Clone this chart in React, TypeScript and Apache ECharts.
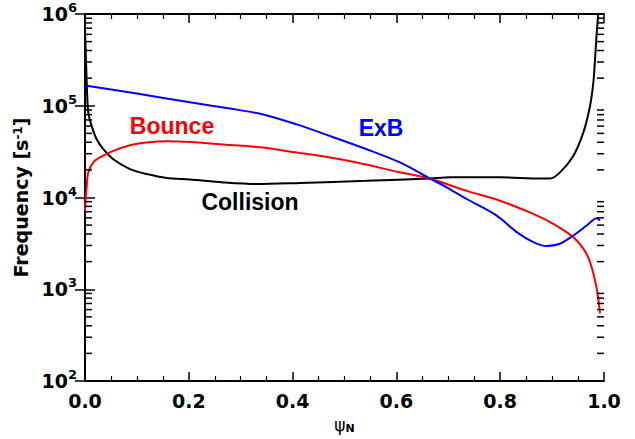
import React, { useEffect, useRef } from "react";
import * as echarts from "echarts";

// Collision frequency
const collisionX = [0, 0.0019, 0.004, 0.0064, 0.0129, 0.0225, 0.0353, 0.0545, 0.0867, 0.1189, 0.1574, 0.2023, 0.2659, 0.3308, 0.4143, 0.5428, 0.6647, 0.7033, 0.7996, 0.8767, 0.896, 0.9152, 0.9408, 0.9601, 0.973, 0.9794, 0.9827, 0.9859, 0.989, 0.9913];
const collisionY = [6.7e5, 3.17e5, 1.4e5, 8.39e4, 6.0e4, 4.31e4, 3.36e4, 2.61e4, 2.04e4, 1.8e4, 1.63e4, 1.57e4, 1.46e4, 1.4e4, 1.44e4, 1.52e4, 1.61e4, 1.66e4, 1.66e4, 1.61e4, 1.61e4, 1.88e4, 2.84e4, 5.09e4, 9.89e4, 1.77e5, 3.17e5, 6.18e5, 1.02e6, 1.8e6];

// Bounce frequency
const bounceX = [0, 0.0033, 0.0064, 0.016, 0.0289, 0.0545, 0.0867, 0.1189, 0.1574, 0.2023, 0.2794, 0.3435, 0.4079, 0.4721, 0.5235, 0.6069, 0.6647, 0.7355, 0.7996, 0.8638, 0.9023, 0.9408, 0.9601, 0.973, 0.9859, 0.9923];
const bounceY = [7.19e3, 1.34e4, 1.88e4, 2.41e4, 2.73e4, 3.22e4, 3.71e4, 3.97e4, 4.1e4, 4.03e4, 3.74e4, 3.5e4, 3.09e4, 2.73e4, 2.41e4, 1.88e4, 1.61e4, 1.18e4, 9.23e3, 6.62e3, 5.16e3, 3.7e3, 2.77e3, 1.99e3, 1.02e3, 5.46e2];

// ExB frequency
const exbX = [0, 0.1, 0.2023, 0.2794, 0.3435, 0.4079, 0.4721, 0.5428, 0.6069, 0.6647, 0.6969, 0.7355, 0.7933, 0.8318, 0.8638, 0.8896, 0.9152, 0.9408, 0.9667, 0.9859, 0.9923];
const exbY = [1.66e5, 1.36e5, 1.09e5, 9.33e4, 8.04e4, 6.26e4, 4.68e4, 3.36e4, 2.41e4, 1.61e4, 1.29e4, 9.63e3, 6.35e3, 4.2e3, 3.27e3, 2.96e3, 3.13e3, 3.85e3, 4.95e3, 5.95e3, 5.61e3];

const yMinorTicks = [100, 1000, 10000, 100000].flatMap((d) => [2, 3, 4, 5, 6, 7, 8, 9].map((m) => m * d));

const FONT = "DejaVu Sans";

const zip = (xs: number[], ys: number[]) => xs.map((x, i) => [x, ys[i]]);

export default function App() {
  const ref = useRef<HTMLDivElement>(null);
  useEffect(() => {
    if (!ref.current) return;
    const chart = echarts.init(ref.current, null, { renderer: "svg" });
    const axisLine = { lineStyle: { color: "#000", width: 2 } };
    const xCommon = {
      type: "value" as const,
      min: 0,
      max: 1,
      interval: 0.2,
      splitLine: { show: false },
      axisLine,
      axisTick: { inside: true, length: 9, lineStyle: { color: "#000", width: 1.5 } },
      minorTick: { show: true, splitNumber: 4, length: 5, lineStyle: { color: "#000", width: 1.2 } },
    };
    const yCommon = {
      type: "log" as const,
      min: 100,
      max: 1e6,
      logBase: 10,
      splitLine: { show: false },
      axisLine,
      axisTick: { inside: true, length: 10, lineStyle: { color: "#000", width: 1.5 } },
    };
    const lineSeries = (name: string, xs: number[], ys: number[], color: string) => ({
      name,
      type: "line",
      data: zip(xs, ys),
      showSymbol: false,
      smooth: 0.3,
      clip: true,
      z: 3,
      lineStyle: { color, width: 2 },
    });
    const labels = [
      { type: "text", x: 172, y: 126, z: 20, style: { text: "Bounce", fill: "#ff0000", font: "bold 23px 'Liberation Sans'", align: "center", verticalAlign: "middle" } },
      { type: "text", x: 381, y: 128, z: 20, style: { text: "ExB", fill: "#0000ff", font: "bold 23px 'Liberation Sans'", align: "center", verticalAlign: "middle" } },
      { type: "text", x: 250, y: 202, z: 20, style: { text: "Collision", fill: "#000", font: "bold 23px 'Liberation Sans'", align: "center", verticalAlign: "middle" } },
    ];
    chart.setOption({
      animation: false,
      backgroundColor: "#fff",
      grid: { left: 85, right: 31, top: 14, bottom: 56 },
      xAxis: [
        {
          ...xCommon,
          position: "bottom",
          name: "{a|ψ}{n|N}",
          nameLocation: "middle",
          nameGap: 34,
          nameTextStyle: {
            rich: {
              a: { fontSize: 17, fontFamily: FONT, color: "#000" },
              n: { fontSize: 11, fontFamily: FONT, fontWeight: "bold", color: "#000", verticalAlign: "bottom", padding: [8, 0, 0, 0] },
            },
          },
          axisLabel: {
            margin: 10,
            fontSize: 19,
            fontWeight: "bold",
            fontFamily: FONT,
            color: "#000",
            formatter: (v: number) => v.toFixed(1),
          },
        },
        { ...xCommon, position: "top", axisLabel: { show: false } },
      ],
      yAxis: [
        {
          ...yCommon,
          position: "left",
          name: "{a|Frequency [s}{s|-1}{a|]}",
          nameLocation: "middle",
          nameGap: 46,
          nameRotate: 90,
          nameTextStyle: {
            rich: {
              a: { fontSize: 19, fontWeight: "bold", fontFamily: FONT, color: "#000" },
              s: { fontSize: 12, fontWeight: "bold", fontFamily: FONT, color: "#000", verticalAlign: "top" },
            },
          },
          axisLabel: {
            margin: 8,
            color: "#000",
            formatter: (v: number) => `{b|10}{s|${Math.round(Math.log10(v))}}`,
            rich: {
              b: { fontSize: 19, fontWeight: "bold", fontFamily: FONT, color: "#000", lineHeight: 26 },
              s: { fontSize: 13, fontWeight: "bold", fontFamily: FONT, color: "#000", verticalAlign: "top" },
            },
          },
        },
        { ...yCommon, position: "right", axisLabel: { show: false } },
      ],
      series: [
        lineSeries("Collision", collisionX, collisionY, "#000000"),
        lineSeries("Bounce", bounceX, bounceY, "#ff0000"),
        lineSeries("ExB", exbX, exbY, "#0000ff"),
      ],
      graphic: labels,
    });
    // minor log ticks on left and right frame, positioned through the axis scale
    const left = chart.convertToPixel({ xAxisIndex: 0 }, 0) as number;
    const right = chart.convertToPixel({ xAxisIndex: 0 }, 1) as number;
    const ticks: any[] = [];
    yMinorTicks.forEach((v) => {
      const y = chart.convertToPixel({ yAxisIndex: 0 }, v) as number;
      ticks.push({ type: "line", z: 15, shape: { x1: left, y1: y, x2: left + 7, y2: y }, style: { stroke: "#000", lineWidth: 1.5 } });
      ticks.push({ type: "line", z: 15, shape: { x1: right, y1: y, x2: right - 7, y2: y }, style: { stroke: "#000", lineWidth: 1.5 } });
    });
    chart.setOption({ graphic: [...labels, ...ticks] });
    return () => chart.dispose();
  }, []);
  return <div ref={ref} style={{ width: 635, height: 439, position: "absolute", left: 0, top: 0 }} />;
}
